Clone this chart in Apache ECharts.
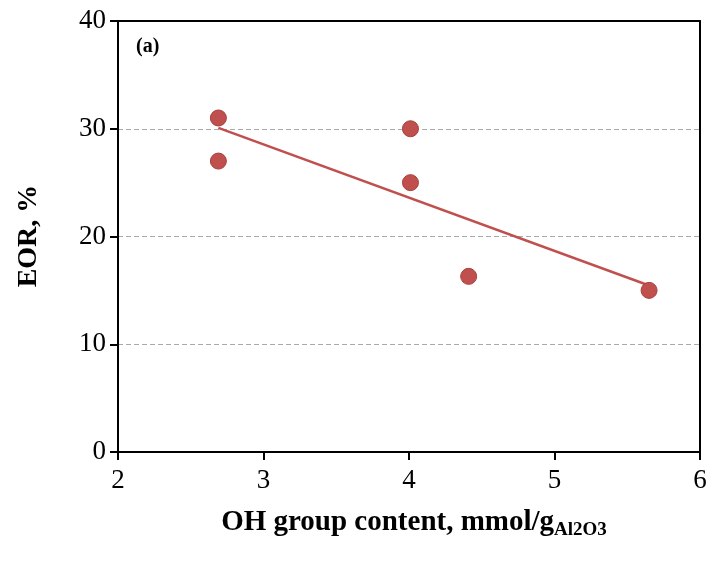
<!DOCTYPE html>
<html>
<head>
<meta charset="utf-8">
<script src="https://cdn.jsdelivr.net/npm/echarts@6/dist/echarts.min.js"></script>
<style>
  html, body { margin: 0; padding: 0; background: #fff; }
  #chart { width: 715px; height: 569px; }
</style>
</head>
<body>
<div id="chart"></div>
<script>
// OH group content (mmol/g Al2O3) and enhanced oil recovery (%)
var ohContent = [2.69, 2.69, 4.01, 4.01, 4.41, 5.65];
var eorValues = [31, 27, 30, 25, 16.3, 15];
var xTicks = [2, 3, 4, 5, 6];
var yTicks = [0, 10, 20, 30, 40];

// least-squares trend line across the measured points
function linearFit(xs, ys) {
  var n = xs.length, mx = 0, my = 0;
  for (var i = 0; i < n; i++) { mx += xs[i]; my += ys[i]; }
  mx /= n; my /= n;
  var sxx = 0, sxy = 0;
  for (var j = 0; j < n; j++) {
    sxx += (xs[j] - mx) * (xs[j] - mx);
    sxy += (xs[j] - mx) * (ys[j] - my);
  }
  var slope = sxy / sxx;
  return { slope: slope, intercept: my - slope * mx };
}
var fit = linearFit(ohContent, eorValues);
var xMin = Math.min.apply(null, ohContent), xMax = Math.max.apply(null, ohContent);
var trend = [[xMin, fit.intercept + fit.slope * xMin], [xMax, fit.intercept + fit.slope * xMax]];

var points = ohContent.map(function (x, i) { return [x, eorValues[i]]; });

var serif = '"Liberation Serif", "Times New Roman", serif';
var frameLine = { show: true, onZero: false, lineStyle: { color: '#000', width: 2 } };
var xRange = { type: 'value', min: xTicks[0], max: xTicks[xTicks.length - 1], interval: 1 };
var yRange = { type: 'value', min: yTicks[0], max: yTicks[yTicks.length - 1], interval: 10 };

var chart = echarts.init(document.getElementById('chart'));
chart.setOption({
  animation: false,
  backgroundColor: '#fff',
  grid: { left: 118, right: 15, top: 21, bottom: 117 },
  xAxis: [
    Object.assign({}, xRange, {
      position: 'bottom',
      axisLine: frameLine,
      axisTick: { show: true, inside: false, length: 8, lineStyle: { color: '#000', width: 2 } },
      axisLabel: { color: '#000', fontFamily: serif, fontSize: 27, margin: 15 },
      splitLine: { show: false }
    }),
    // top edge of the plot frame
    Object.assign({}, xRange, {
      position: 'top',
      axisLine: frameLine, axisTick: { show: false }, axisLabel: { show: false }, splitLine: { show: false }
    })
  ],
  yAxis: [
    Object.assign({}, yRange, {
      position: 'left',
      axisLine: frameLine,
      axisTick: { show: true, inside: false, length: 8, lineStyle: { color: '#000', width: 2 } },
      axisLabel: { color: '#000', fontFamily: serif, fontSize: 27, margin: 12 },
      splitLine: { show: true, lineStyle: { color: '#aaa', type: [5, 3], width: 1 } }
    }),
    // right edge of the plot frame
    Object.assign({}, yRange, {
      position: 'right',
      axisLine: frameLine, axisTick: { show: false }, axisLabel: { show: false }, splitLine: { show: false }
    })
  ],
  graphic: [
    {
      type: 'text', left: 136, top: 37,
      style: { text: '(a)', font: 'bold 20px ' + serif, fill: '#000' }
    },
    {
      type: 'text', x: 29, y: 236, rotation: Math.PI / 2,
      style: { text: 'EOR, %', font: 'bold 28px ' + serif, fill: '#000', align: 'center', verticalAlign: 'middle' }
    },
    {
      type: 'text', x: 414, y: 523,
      style: {
        text: '{m|OH group content, mmol/g}{s|Al2O3}',
        align: 'center', verticalAlign: 'middle',
        rich: {
          m: { font: 'bold 29px ' + serif, color: '#000' },
          s: { font: 'bold 19px ' + serif, color: '#000', padding: [15, 0, 0, 0] }
        }
      }
    }
  ],
  series: [
    {
      type: 'line', data: trend, symbol: 'none', silent: true,
      lineStyle: { color: '#C0504D', width: 2.5 }, z: 2
    },
    {
      type: 'scatter', data: points, symbol: 'circle', symbolSize: 16,
      itemStyle: { color: '#C0504D', borderColor: '#A8403C', borderWidth: 1, opacity: 1 }, z: 3
    }
  ]
});
</script>
</body>
</html>
